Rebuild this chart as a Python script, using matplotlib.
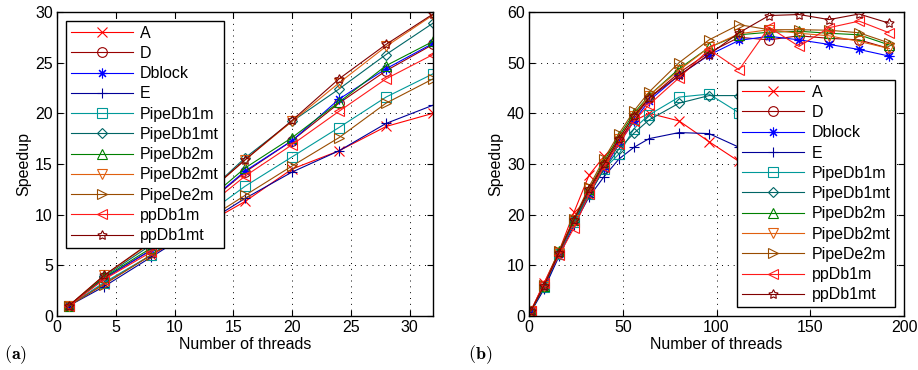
import numpy as np
import matplotlib.pyplot as plt

plt.rcParams['font.family'] = ['Liberation Sans', 'DejaVu Sans']
plt.rcParams['mathtext.fontset'] = 'cm'

names = ['A', 'D', 'Dblock', 'E', 'PipeDb1m', 'PipeDb1mt', 'PipeDb2m',
         'PipeDb2mt', 'PipeDe2m', 'ppDb1m', 'ppDb1mt']
colors = ['#ff0000', '#990000', '#0000ff', '#000099', '#009999', '#006666',
          '#008000', '#e06010', '#994c00', '#ff1a1a', '#800000']
markers = ['x', 'o', (8, 2, 0), '+', 's', 'D', '^', 'v', '>', '<', (5, 1, 0)]

# (a) threads 1..32
x_a = [1, 4, 8, 16, 20, 24, 28, 32]
a_A = [1, 3.2, 6.0, 11.3, 14.5, 16.3, 18.7, 20.0]
a_D = [1, 3.7, 6.5, 14.2, 17.3, 21.0, 24.2, 26.8]
a_Dblock = [1, 3.7, 6.5, 14.3, 17.3, 21.4, 24.4, 26.9]
a_E = [1, 2.9, 5.8, 11.6, 14.2, 16.3, 19.0, 20.8]
a_PipeDb1m = [1, 3.3, 6.0, 12.8, 15.7, 18.6, 21.6, 23.9]
a_PipeDb1mt = [1, 3.9, 7.0, 15.6, 19.2, 22.4, 25.8, 28.9]
a_PipeDb2m = [1, 3.8, 6.7, 14.6, 17.6, 21.1, 24.7, 27.1]
a_PipeDb2mt = [1, 4.0, 7.2, 15.4, 19.2, 23.0, 26.6, 29.7]
a_PipeDe2m = [1, 3.1, 6.0, 11.9, 14.8, 17.6, 21.0, 23.4]
a_ppDb1m = [1, 3.6, 6.3, 13.8, 16.9, 20.2, 23.4, 25.8]
a_ppDb1mt = [1, 4.0, 7.3, 15.4, 19.3, 23.4, 26.8, 29.8]

# (b) threads 1..192
x_b = [1, 8, 16, 24, 32, 40, 48, 56, 64, 80, 96, 112, 128, 144, 160, 176, 192]
b_A = [1, 6.5, 12.8, 20.5, 27.8, 31.5, 34.5, 38.5, 40.0, 38.5, 34.4, 30.5]
b_D = [1, 6, 12.5, 19, 24.5, 29.8, 34.5, 39, 43, 48, 52, 55, 54.5, 55.3, 54.8, 54.5, 52.8]
b_Dblock = [1, 5.5, 12.2, 18.5, 24, 29, 34, 38.5, 42.5, 47.5, 51.5, 54.4, 55.2, 54.5, 53.6, 52.6, 51.3]
b_E = [0.8, 5.3, 11.8, 18, 23.5, 27.5, 31.0, 33.3, 35.0, 36.2, 36.0, 33.3]
b_PipeDb1m = [1, 5.8, 12.3, 18.5, 24, 29, 32, 37, 39.7, 43.2, 43.8, 40.1]
b_PipeDb1mt = [1, 5.8, 12.5, 18.7, 24, 29, 33, 36.1, 38.7, 42.0, 43.5, 43.5]
b_PipeDb2m = [1, 6, 12.8, 19, 25, 30.5, 35.5, 40, 43.5, 48.8, 53, 55.5, 56, 56.2, 55.8, 55.5, 53.5]
b_PipeDb2mt = [1, 6, 12.5, 19, 25, 30, 35, 39.5, 43.5, 48.5, 53, 55.7, 56.5, 55.8, 55.3, 54.2, 52.8]
b_PipeDe2m = [1, 6.2, 12.8, 19.2, 25.5, 31, 36, 40.5, 44.2, 50, 54.5, 57.5, 56.5, 56.5, 56.4, 55.9, 53.9]
b_ppDb1m = [1, 6.5, 12.0, 17.4, 24, 29.5, 34, 38.5, 41.7, 47, 52.6, 48.6, 57, 53.2, 56.9, 58.2, 55.9]
b_ppDb1mt = [1, 6, 12.5, 19, 25, 30, 35, 39.5, 43, 47.5, 51.6, 55.9, 59.3, 59.5, 58.5, 59.6, 57.8]

series_a = [a_A, a_D, a_Dblock, a_E, a_PipeDb1m, a_PipeDb1mt, a_PipeDb2m,
            a_PipeDb2mt, a_PipeDe2m, a_ppDb1m, a_ppDb1mt]
series_b = [b_A, b_D, b_Dblock, b_E, b_PipeDb1m, b_PipeDb1mt, b_PipeDb2m,
            b_PipeDb2mt, b_PipeDe2m, b_ppDb1m, b_ppDb1mt]

fig = plt.figure(figsize=(9.18, 3.70), dpi=100)
ax1 = fig.add_axes([0.0621, 0.146, 0.4096, 0.8216])
ax2 = fig.add_axes([0.5763, 0.146, 0.4085, 0.8216])

fs = 11.5


def draw(ax, x, series, loc):
    for ys, name, c, m in zip(series, names, colors, markers):
        ms = 5.5 if m == 'D' else 7
        ax.plot(x[:len(ys)], ys, color=c, marker=m, mfc='none', mec=c,
                ms=ms, lw=0.8, mew=0.8, label=name)
    ax.grid(True, linestyle=(0, (1, 5)), color='black', linewidth=0.7)
    ax.tick_params(direction='in', top=True, right=True, labelsize=fs,
                   length=4, width=0.8, pad=3)
    for s in ax.spines.values():
        s.set_linewidth(1.0)
    ax.set_xlabel('Number of threads', fontsize=fs, labelpad=1)
    ax.set_ylabel('Speedup', fontsize=fs, labelpad=3)
    leg = ax.legend(loc=loc, fontsize=fs, handlelength=3.9,
                    borderpad=0.3, labelspacing=0.33, handletextpad=0.45,
                    fancybox=False, framealpha=1, edgecolor='black',
                    borderaxespad=0.55)
    leg.get_frame().set_linewidth(1.0)


draw(ax1, x_a, series_a, 'upper left')
ax1.set_xlim(0, 32)
ax1.set_ylim(0, 30)
ax1.set_xticks(np.arange(0, 31, 5))
ax1.set_yticks(np.arange(0, 31, 5))

draw(ax2, x_b, series_b, 'lower right')
ax2.set_xlim(0, 200)
ax2.set_ylim(0, 60)
ax2.set_xticks(np.arange(0, 201, 50))
ax2.set_yticks(np.arange(0, 61, 10))

fig.text(0.004, 0.03, r'$\mathbf{(a)}$', fontsize=13)
fig.text(0.51, 0.03, r'$\mathbf{(b)}$', fontsize=13)

fig.savefig('out.png', dpi=100)
